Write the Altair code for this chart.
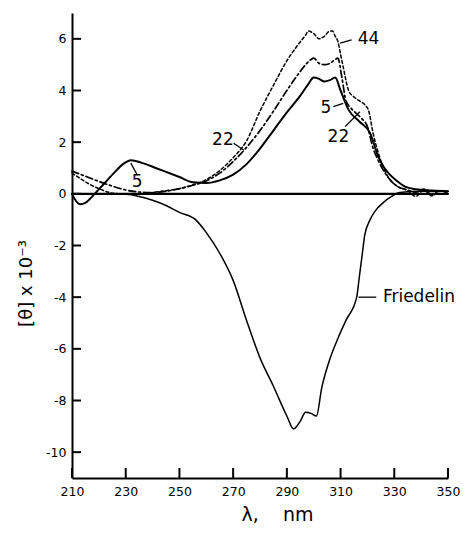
import altair as alt
import pandas as pd

# ---- data ----
lam_fried = [210, 220, 230, 235, 240, 245, 250, 256, 260, 265, 270, 275, 280, 285, 290, 292.5, 295, 297, 299, 301,
             303, 306, 309, 312, 316, 317, 318, 319, 321, 323, 326, 329, 332, 340, 350]
val_fried = [0, 0, -0.02, -0.1, -0.25, -0.45, -0.72, -1.0, -1.5, -2.3, -3.35, -4.9, -6.35, -7.45, -8.6, -9.1, -8.8, -8.45, -8.5, -8.6,
             -7.5, -6.4, -5.6, -4.9, -4.0, -3.2, -2.4, -1.6, -1.0, -0.65, -0.33, -0.1, 0.05, 0.1, 0.1]

lam_5 = [210, 211, 213, 215, 218, 222, 226, 229, 232, 236, 240, 245, 250, 255, 260, 265, 270, 275, 280, 285, 290, 295, 298,
         300, 302, 304, 306, 308, 310, 313, 317, 321, 324, 326, 328, 331, 334, 338, 344, 350]
val_5 = [0, -0.2, -0.4, -0.35, -0.05, 0.4, 0.85, 1.15, 1.3, 1.2, 1.05, 0.85, 0.65, 0.45, 0.42, 0.52, 0.74, 1.15, 1.75, 2.45, 3.15, 3.8, 4.25,
         4.5, 4.45, 4.35, 4.4, 4.5, 4.0, 3.25, 2.8, 2.35, 1.45, 1.05, 0.78, 0.5, 0.28, 0.18, 0.13, 0.1]

lam_22 = [210, 215, 220, 225, 230, 235, 240, 245, 250, 255, 260, 265, 270, 275, 280, 285, 290, 294, 297, 299, 300, 302, 304,
          306, 308, 309, 310.5, 312, 314, 316, 318, 320, 322, 324, 326, 328, 331, 335, 338, 341, 344, 347, 350]
val_22 = [0.88, 0.68, 0.48, 0.3, 0.15, 0.07, 0.05, 0.1, 0.2, 0.33, 0.5, 0.8, 1.25, 1.8, 2.45, 3.2, 4.0, 4.6, 5.0, 5.2, 5.25, 5.05, 5.0,
          5.05, 5.2, 5.25, 4.5, 3.6, 3.3, 3.1, 2.9, 2.6, 1.8, 1.3, 0.9, 0.6, 0.3, 0.15, 0.05, 0.18, -0.05, 0.12, 0.05]

lam_44 = [210, 213, 216, 220, 224, 228, 232, 236, 240, 245, 250, 255, 260, 265, 270, 275, 280, 285, 290, 294, 297, 298, 300,
          302, 304, 306, 307, 308, 309, 310, 311, 313, 315, 317, 319, 320.5, 322, 324, 326, 328, 331, 335, 338, 341, 344, 347, 350]
val_44 = [0.8, 0.6, 0.4, 0.2, 0.05, 0.0, -0.02, 0.0, 0.05, 0.12, 0.2, 0.35, 0.55, 0.9, 1.4, 2.05, 3.2, 4.2, 5.15, 5.75, 6.15, 6.3, 6.2,
          6.0, 6.1, 6.3, 6.3, 6.1, 5.9, 5.4, 4.9, 4.0, 3.75, 3.6, 3.45, 3.2, 2.4, 1.6, 1.0, 0.6, 0.3, 0.12, -0.1, 0.15, -0.08, 0.1, 0.05]

lam_base = [210, 350]
val_base = [0, 0]

x_ticks = [210, 230, 250, 270, 290, 310, 330, 350]
y_ticks = [-10, -8, -6, -4, -2, 0, 2, 4, 6]

label_text = ["44", "22", "5", "5", "22", "Friedelin"]
label_lam = [320.4, 266.2, 234.3, 304.5, 309.2, 339.2]
label_val = [6.0, 2.09, 0.46, 3.33, 2.2, -4.0]

lead_lam = [309.8, 270.2, 234.3, 307.3, 311.7, 316.7]
lead_val = [5.83, 1.96, 0.73, 3.38, 2.6, -4.0]
lead_lam2 = [314.1, 273.9, 231.9, 311.0, 317.2, 323.3]
lead_val2 = [5.96, 1.7, 1.19, 3.5, 3.18, -4.0]

FONT = "DejaVu Sans"
W, H = 376, 465

xs = alt.Scale(domain=[210, 350], nice=False, zero=False)
ys = alt.Scale(domain=[-11, 7], nice=False, zero=False)

X = alt.X("lam:Q", scale=xs, axis=alt.Axis(
    values=x_ticks, ticks=False, tickSize=0, grid=False, domainColor="black", domainWidth=2,
    labelFont=FONT, labelFontSize=12.5, labelColor="black", labelPadding=7, labelFlush=False,
    title="λ,\u00a0\u00a0\u00a0\u00a0nm", titleFont=FONT, titleFontSize=19, titleFontWeight="normal", titleColor="black",
    titleX=205, titleY=36, titleAlign="center", titleBaseline="middle"))
Y = alt.Y("val:Q", scale=ys, axis=alt.Axis(
    values=y_ticks, ticks=False, tickSize=0, grid=False, domainColor="black", domainWidth=2,
    labelFont=FONT, labelFontSize=12.5, labelColor="black", labelPadding=6, labelFlush=False,
    labelExpr="datum.value < 0 ? '-' + abs(datum.value) : '' + datum.value",
    title="[θ] x 10⁻³", titleFont=FONT, titleFontSize=18, titleFontWeight="normal", titleColor="black",
    titleX=-46, titleY=270, titleAlign="center", titleBaseline="middle", titleAngle=270))


def df(l, v):
    return pd.DataFrame({"lam": l, "val": v})


def line(l, v, width, dash=None, smooth=True):
    kw = dict(color="black", strokeWidth=width, strokeCap="round", strokeJoin="round")
    if smooth:
        kw["interpolate"] = "monotone"
    if dash:
        kw["strokeDash"] = dash
    return alt.Chart(df(l, v)).mark_line(**kw).encode(x=X, y=Y, order="lam:Q")


base = line(lam_base, val_base, 2.2, smooth=False)
fried = line(lam_fried, val_fried, 1.5)
c5 = line(lam_5, val_5, 2.0)
c22 = line(lam_22, val_22, 1.7, [7, 3, 2, 3])
c44 = line(lam_44, val_44, 1.5, [3, 2.5])

xt = alt.Chart(pd.DataFrame({"lam": x_ticks})).mark_rule(color="black", strokeWidth=2).encode(
    x=X, y=alt.value(H), y2=alt.value(H - 10))
yt = alt.Chart(pd.DataFrame({"val": y_ticks})).mark_rule(color="black", strokeWidth=2).encode(
    y=Y, x=alt.value(0), x2=alt.value(9))

labels = alt.Chart(pd.DataFrame({"lam": label_lam, "val": label_val, "t": label_text})).mark_text(
    font=FONT, fontSize=17, color="black", align="center", baseline="middle").encode(x=X, y=Y, text="t:N")

leads = alt.Chart(pd.DataFrame({"lam": lead_lam, "val": lead_val, "lam2": lead_lam2, "val2": lead_val2})).mark_rule(
    color="black", strokeWidth=1.3).encode(x=X, y=Y, x2="lam2:Q", y2="val2:Q")

chart = alt.layer(base, fried, c5, c22, c44, xt, yt, leads, labels).properties(
    width=W, height=H,
    autosize=alt.AutoSizeParams(type="none"),
    padding={"left": 64, "top": 5, "right": 13, "bottom": 55},
    background="white",
).configure_view(stroke=None)

chart.save("out.html", embed_options={"renderer": "svg", "actions": False})
